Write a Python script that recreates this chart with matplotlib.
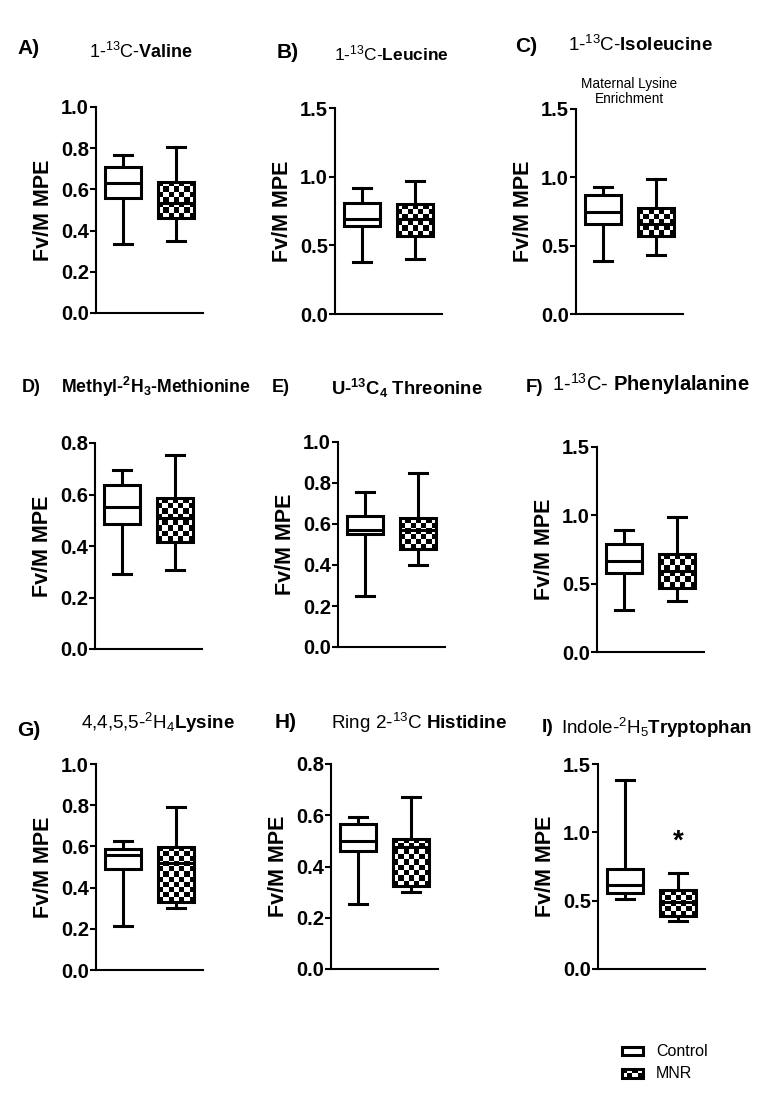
import numpy as np
import matplotlib
matplotlib.use('Agg')
import matplotlib.pyplot as plt
from matplotlib.patches import Rectangle

plt.rcParams['font.family'] = ['Liberation Sans', 'DejaVu Sans']
plt.rcParams['mathtext.fontset'] = 'custom'
plt.rcParams['mathtext.rm'] = 'Liberation Sans'
plt.rcParams['mathtext.it'] = 'Liberation Sans:italic'
plt.rcParams['mathtext.bf'] = 'Liberation Sans:bold'

# panel data
letters = ['A)', 'B)', 'C)', 'D)', 'E)', 'F)', 'G)', 'H)', 'I)']
titles = [r'1-$^{13}$C-$\mathbf{Valine}$',
          r'1-$^{13}$C-$\mathbf{Leucine}$',
          r'1-$^{13}$C-$\mathbf{Isoleucine}$',
          r'Methyl-$^{\mathbf{2}}\mathbf{H}_{\mathbf{3}}$-Methionine',
          r'U-$^{\mathbf{13}}\mathbf{C}_{\mathbf{4}}$ Threonine',
          r'1-$^{13}$C- $\mathbf{Phenylalanine}$',
          r'4,4,5,5-$^{2}$H$_{4}$$\mathbf{Lysine}$',
          r'Ring 2-$^{13}$C $\mathbf{Histidine}$',
          r'Indole-$^{2}$H$_{5}$$\mathbf{Tryptophan}$']
title_bold = [False, False, False, True, True, False, False, False, False]
ymax = [1.0, 1.5, 1.5, 0.8, 1.0, 1.5, 1.0, 0.8, 1.5]
ystep = [0.2, 0.5, 0.5, 0.2, 0.2, 0.5, 0.2, 0.2, 0.5]

ctrl_min = [0.336, 0.377, 0.39, 0.29, 0.25, 0.31, 0.215, 0.255, 0.512]
ctrl_q1 = [0.56, 0.643, 0.656, 0.485, 0.55, 0.58, 0.489, 0.459, 0.556]
ctrl_med = [0.631, 0.69, 0.745, 0.553, 0.571, 0.666, 0.558, 0.50, 0.617]
ctrl_q3 = [0.709, 0.81, 0.872, 0.637, 0.639, 0.793, 0.589, 0.566, 0.73]
ctrl_max = [0.767, 0.92, 0.932, 0.694, 0.757, 0.89, 0.626, 0.594, 1.385]

mnr_min = [0.35, 0.404, 0.43, 0.305, 0.40, 0.373, 0.30, 0.30, 0.348]
mnr_q1 = [0.46, 0.569, 0.572, 0.414, 0.478, 0.468, 0.328, 0.324, 0.39]
mnr_med = [0.535, 0.69, 0.66, 0.51, 0.57, 0.59, 0.52, 0.475, 0.49]
mnr_q3 = [0.636, 0.803, 0.776, 0.586, 0.627, 0.72, 0.599, 0.508, 0.575]
mnr_max = [0.807, 0.968, 0.99, 0.755, 0.851, 0.99, 0.793, 0.67, 0.706]

groups = ['Control', 'MNR']
star_panel = 8
star_y = 0.93

W, H = 766, 1094
fig = plt.figure(figsize=(W / 100, H / 100), dpi=100)

# axes layout in pixels: left, top, bottom
axes_px = [(96, 107, 313), (335, 108, 314), (576, 109, 314),
           (95, 443, 649), (338, 442, 647), (597, 447, 652),
           (96, 764, 970), (331, 764, 969), (598, 764, 969)]
ax_w = 107
letter_px = [(17, 49), (277, 53), (515, 46), (22, 387), (272, 388), (526, 387),
             (17, 731), (275, 722), (542, 727)]
letter_size = [15, 15, 15, 13, 13, 13.5, 15, 15, 14]
title_px = [(141, 52), (391, 53), (640, 45), (156, 387), (407, 388), (651, 384),
            (158, 723), (419, 723), (656, 728)]
title_size = [13, 12.5, 13.5, 12.7, 13.3, 14.5, 13.5, 13.6, 13.5]

BW = 0.68
SQ = 5.3


def checker(ax, x0, x1, y0, y1, z):
    p0 = ax.transData.transform((x0, y0))
    p1 = ax.transData.transform((x1, y1))
    nx = max(1, int(round(abs(p1[0] - p0[0]) / SQ)))
    ny = max(1, int(round(abs(p1[1] - p0[1]) / SQ)))
    grid = np.add.outer(np.arange(ny), np.arange(nx)) % 2
    ax.imshow(grid, cmap='gray', vmin=0, vmax=1, extent=(x0, x1, y0, y1),
              aspect='auto', interpolation='nearest', origin='lower', zorder=z)


for i in range(9):
    left, top, bottom = axes_px[i]
    ax = fig.add_axes([left / W, 1 - bottom / H, ax_w / W, (bottom - top) / H])
    ax.set_xlim(0.5, 2.5)
    ax.set_ylim(0, ymax[i])

    stats = [dict(whislo=ctrl_min[i], q1=ctrl_q1[i], med=ctrl_med[i], q3=ctrl_q3[i],
                  whishi=ctrl_max[i], fliers=[], label=groups[0]),
             dict(whislo=mnr_min[i], q1=mnr_q1[i], med=mnr_med[i], q3=mnr_q3[i],
                  whishi=mnr_max[i], fliers=[], label=groups[1])]
    lw = 2.2
    bp = ax.bxp(stats, positions=[1, 2], widths=BW, patch_artist=True, showfliers=False,
                capwidths=0.33,
                boxprops=dict(linewidth=lw, edgecolor='black'),
                whiskerprops=dict(linewidth=lw, color='black'),
                capprops=dict(linewidth=lw, color='black'),
                medianprops=dict(linewidth=lw, color='black'))
    bp['boxes'][0].set_facecolor('white')
    bp['boxes'][1].set_facecolor('none')
    for b in bp['boxes']:
        b.set_zorder(3)
    for m in bp['medians']:
        m.set_zorder(4)
    checker(ax, 2 - BW / 2, 2 + BW / 2, mnr_q1[i], mnr_q3[i], 2.5)
    ax.set_xlim(0.5, 2.5)
    ax.set_ylim(0, ymax[i])

    ticks = np.round(np.arange(0, ymax[i] + 1e-9, ystep[i]), 2)
    ax.set_yticks(ticks)
    ax.set_yticklabels(['%.1f' % t for t in ticks], fontsize=14.5, fontweight='bold')
    ax.set_xticks([])
    ax.spines['top'].set_visible(False)
    ax.spines['right'].set_visible(False)
    ax.spines['left'].set_linewidth(1.5)
    ax.spines['bottom'].set_linewidth(1.5)
    ax.tick_params(axis='y', width=1.5, length=4, pad=1)
    ax.set_ylabel('Fv/M MPE', fontsize=15.5, fontweight='bold', labelpad=5)

    lx, ly = letter_px[i]
    fig.text(lx / W, 1 - ly / H, letters[i], fontsize=letter_size[i], fontweight='bold',
             ha='left', va='center')
    tx, ty = title_px[i]
    fig.text(tx / W, 1 - ty / H, titles[i], fontsize=title_size[i],
             fontweight='bold' if title_bold[i] else 'normal', ha='center', va='center')

    if i == 2:
        ax.text(0.5, 1.085, 'Maternal Lysine\nEnrichment', transform=ax.transAxes,
                ha='center', va='center', fontsize=9.8, linespacing=1.1)
    if i == star_panel:
        ax.text(2, star_y, '*', ha='center', va='center', fontsize=20, fontweight='bold')

# legend
lax = fig.add_axes([0, 0, 1, 1])
lax.set_xlim(0, W)
lax.set_ylim(H, 0)
lax.axis('off')
lax.patch.set_alpha(0)
lax.add_patch(Rectangle((622, 1047), 21, 8, facecolor='white', edgecolor='black', lw=2.2))
cb = np.add.outer(np.arange(2), np.arange(4)) % 2
lax.imshow(cb, cmap='gray', vmin=0, vmax=1, extent=(622, 643, 1078, 1069),
           aspect='auto', interpolation='nearest', zorder=1)
lax.add_patch(Rectangle((622, 1069), 21, 9, facecolor='none', edgecolor='black', lw=2.2, zorder=2))
lax.set_xlim(0, W)
lax.set_ylim(H, 0)
lax.text(656, 1051, groups[0], fontsize=11.5, va='center', ha='left')
lax.text(656, 1073, groups[1], fontsize=11.5, va='center', ha='left')

fig.savefig('out.png', dpi=100)
